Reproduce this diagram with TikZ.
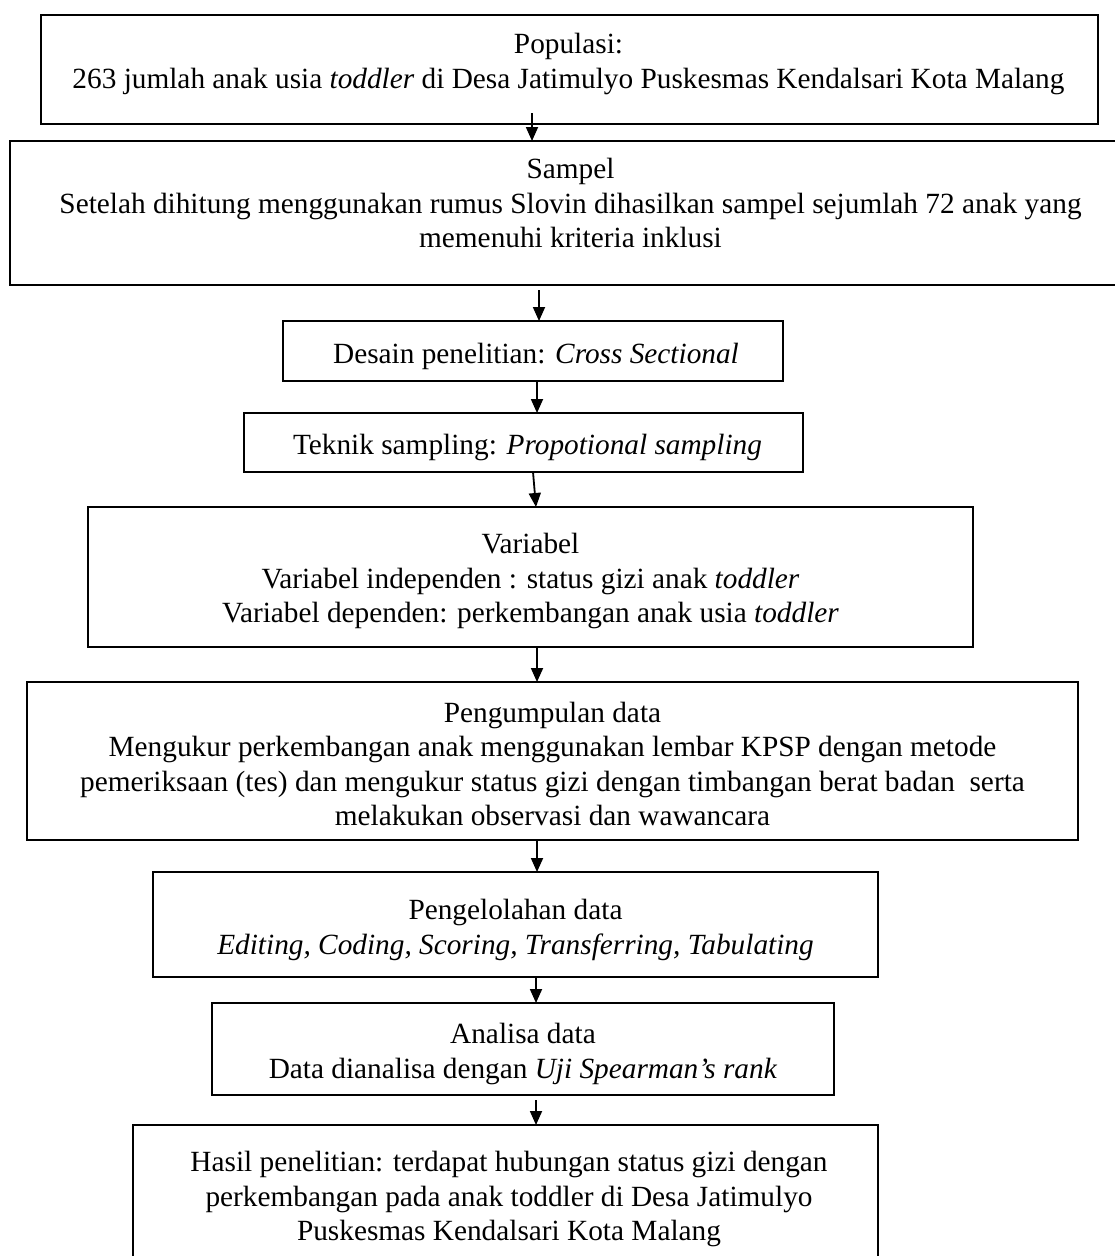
\documentclass[tikz,border=0pt]{standalone}
\usepackage{fontspec}
\setmainfont{Liberation Serif}
\usetikzlibrary{arrows.meta,calc}
\begin{document}
\begin{tikzpicture}[x=1pt,y=-1pt,
  box/.style={draw=black, line width=2.3pt, inner sep=0pt, outer sep=0pt},
  txt/.style={align=center, inner sep=0pt, font=\fontsize{29.3}{34.5}\selectfont},
  arr/.style={draw=black, line width=1.8pt, -{Triangle[length=14pt,width=12pt]}}]
\useasboundingbox[fill=white] (0,0) rectangle (1115,1256);

% boxes
\node[box, minimum width=1057pt, minimum height=109pt] (b1) at (569.5,69.5) {};
\node[box, minimum width=1121pt, minimum height=144pt] (b2) at (570.5,213) {};
\node[box, minimum width=500pt, minimum height=60pt] (b3) at (533,351) {};
\node[box, minimum width=559pt, minimum height=59pt] (b4) at (523.5,442.5) {};
\node[box, minimum width=885pt, minimum height=140pt] (b5) at (530.5,577) {};
\node[box, minimum width=1051pt, minimum height=158pt] (b6) at (552.5,761) {};
\node[box, minimum width=725pt, minimum height=105pt] (b7) at (515.5,924.5) {};
\node[box, minimum width=622pt, minimum height=92pt] (b8) at (523,1049) {};
\node[box, minimum width=745pt, minimum height=150pt] (b9) at (505.5,1200) {};

% texts
\node[txt] (t1) at (568.5,64) {Populasi:\\263 jumlah anak usia \textit{toddler} di Desa Jatimulyo Puskesmas Kendalsari Kota Malang};
\node[txt] (t2) at (570.5,203) {Sampel\\Setelah dihitung menggunakan rumus Slovin dihasilkan sampel sejumlah 72 anak yang\\memenuhi kriteria inklusi};
\node[txt] (t3) at (536,356) {Desain penelitian: \textit{Cross Sectional}};
\node[txt] (t4) at (527.5,447) {Teknik sampling: \textit{Propotional sampling}};
\node[txt] (t5) at (530.5,581) {Variabel\\Variabel independen : status gizi anak \textit{toddler}\\Variabel dependen: perkembangan anak usia \textit{toddler}};
\node[txt] (t6) at (552.5,764) {Pengumpulan data\\Mengukur perkembangan anak menggunakan lembar KPSP dengan metode\\pemeriksaan (tes) dan mengukur status gizi dengan timbangan berat badan\ \ serta\\melakukan observasi dan wawancara};
\node[txt] (t7) at (515.5,930) {Pengelolahan data\\\textit{Editing, Coding, Scoring, Transferring, Tabulating}};
\node[txt] (t8) at (523,1054) {Analisa data\\Data dianalisa dengan \textit{Uji Spearman's rank}};
\node[txt] (t9) at (509,1199) {Hasil penelitian: terdapat hubungan status gizi dengan\\perkembangan pada anak toddler di Desa Jatimulyo\\Puskesmas Kendalsari Kota Malang};

% arrow x positions
\coordinate (x1) at (532,0);
\coordinate (x2) at (539,0);
\coordinate (x3) at (537,0);
\coordinate (x4a) at (533,0);
\coordinate (x4b) at (536,0);
\coordinate (x5) at (537,0);
\coordinate (x6) at (537,0);
\coordinate (x7) at (536,0);
\coordinate (x8) at (536,0);

\draw[arr] ($(b1.south -| x1)+(0,-11)$) -- (b2.north -| x1);
\draw[arr] ($(b2.south -| x2)+(0,5)$) -- (b3.north -| x2);
\draw[arr] (b3.south -| x3) -- (b4.north -| x3);
\draw[arr] (b4.south -| x4a) -- (b5.north -| x4b);
\draw[arr] (b5.south -| x5) -- (b6.north -| x5);
\draw[arr] (b6.south -| x6) -- (b7.north -| x6);
\draw[arr] (b7.south -| x7) -- (b8.north -| x7);
\draw[arr] ($(b8.south -| x8)+(0,5)$) -- (b9.north -| x8);
\end{tikzpicture}
\end{document}
